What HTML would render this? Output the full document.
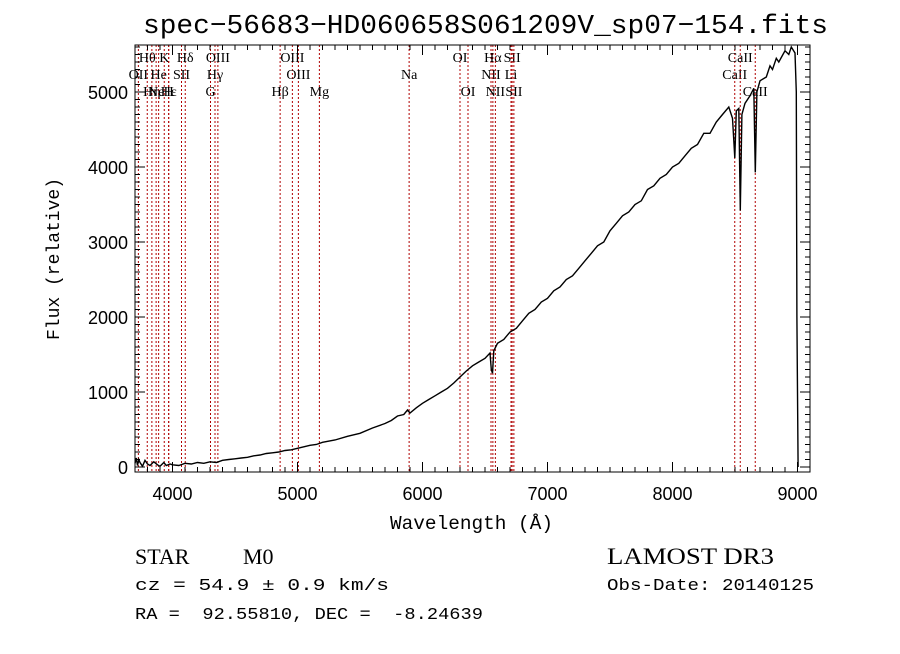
<!DOCTYPE html>
<html><head><meta charset="utf-8"><style>
body{margin:0;background:#fff;width:900px;height:649px;overflow:hidden}
svg text{font-family:"Liberation Sans",sans-serif;white-space:pre}
</style></head><body>
<svg id="chart" width="900" height="649" viewBox="0 0 900 649" xmlns="http://www.w3.org/2000/svg" xml:space="preserve">
<rect width="900" height="649" fill="#fff"/>
<text x="143" y="33" textLength="685" lengthAdjust="spacingAndGlyphs" font-size="27" style="font-family:'Liberation Mono',monospace">spec−56683−HD060658S061209V_sp07−154.fits</text>
<g id="lines"></g>
<g id="marks"></g>
<g id="axes"></g>
<text x="390" y="529" textLength="163" lengthAdjust="spacingAndGlyphs" font-size="19" style="font-family:'Liberation Mono',monospace">Wavelength (Å)</text>
<text transform="translate(59,340) rotate(-90)" textLength="162" lengthAdjust="spacingAndGlyphs" font-size="18" style="font-family:'Liberation Mono',monospace">Flux (relative)</text>
<text x="135" y="564" font-size="22" style="font-family:'Liberation Serif',serif">STAR</text>
<text x="243" y="564" font-size="22" style="font-family:'Liberation Serif',serif">M0</text>
<text x="607" y="564" textLength="167" lengthAdjust="spacingAndGlyphs" font-size="23" style="font-family:'Liberation Serif',serif">LAMOST DR3</text>
<text x="135" y="590" textLength="254" lengthAdjust="spacingAndGlyphs" font-size="17" style="font-family:'Liberation Mono',monospace">cz = 54.9 ± 0.9 km/s</text>
<text x="607" y="590" textLength="207" lengthAdjust="spacingAndGlyphs" font-size="17" style="font-family:'Liberation Mono',monospace">Obs-Date: 20140125</text>
<text x="135" y="619" textLength="348" lengthAdjust="spacingAndGlyphs" font-size="17" style="font-family:'Liberation Mono',monospace">RA =  92.55810, DEC =  -8.24639</text>
</svg>
<script>
const wavelengths=[3700,3710,3720,3730,3740,3760,3780,3800,3820,3850,3880,3900,3930,3950,3980,4000,4050,4100,4150,4200,4250,4300,4350,4400,4450,4500,4550,4600,4650,4700,4750,4800,4850,4900,4950,5000,5050,5100,5150,5200,5300,5400,5500,5600,5700,5750,5800,5850,5880,5900,5950,6000,6050,6100,6150,6200,6250,6300,6350,6400,6450,6500,6540,6550,6560,6570,6600,6650,6700,6750,6800,6850,6900,6950,7000,7050,7100,7150,7200,7250,7300,7350,7400,7450,7500,7550,7600,7650,7700,7750,7800,7850,7900,7950,8000,8050,8100,8150,8200,8250,8300,8350,8400,8450,8480,8498,8510,8530,8542,8555,8580,8620,8650,8662,8675,8700,8750,8780,8800,8830,8850,8900,8930,8950,8980,8990,8995,9000,9005];
const fluxValues=[50,120,20,100,60,10,90,40,20,70,30,10,60,20,40,30,20,50,40,60,50,70,60,90,100,110,120,130,150,160,180,190,200,220,230,250,270,290,300,330,360,410,450,520,580,620,680,700,760,720,790,850,900,950,1000,1050,1120,1200,1280,1350,1400,1450,1520,1300,1250,1550,1650,1700,1800,1850,1950,2050,2100,2200,2250,2350,2400,2500,2550,2650,2750,2850,2950,3000,3150,3250,3350,3400,3500,3550,3700,3750,3850,3900,4000,4050,4150,4250,4300,4450,4450,4600,4700,4800,4650,4120,4750,4780,3420,4700,4850,4950,5050,3930,5000,5150,5200,5350,5300,5450,5400,5550,5500,5600,5520,5000,2000,1000,0];
const xTicks=[4000,5000,6000,7000,8000,9000];
const yTicks=[0,1000,2000,3000,4000,5000];
const lineNames=["OII","Hθ","Hη","He","Ne","K","H","Hε","SII","Hδ","G","Hγ","OIII","Hβ","OIII","OIII","Mg","Na","OI","OI","NII","Hα","NII","Li","SII","SII","CaII","CaII","CaII"];
const lineWaves=[3727,3798,3835,3889,3869,3934,3969,3970,4072,4102,4304,4340,4363,4861,4959,5007,5175,5893,6300,6364,6548,6563,6583,6708,6717,6731,8498,8542,8662];
const lineRows=[1,0,2,1,2,0,2,2,1,0,2,1,0,2,0,1,2,1,0,2,1,0,2,1,0,2,1,0,2];
const L=135,R=810,T=45,B=472;
const xs=w=>L+(w-3700)*(R-L)/(9100-3700);
const ys=f=>467-f*0.075;
const NS="http://www.w3.org/2000/svg";
function mk(t,a,p){const e=document.createElementNS(NS,t);for(const k in a)e.setAttribute(k,a[k]);p.appendChild(e);return e;}
const lg=document.getElementById('lines');
lineWaves.forEach((w,i)=>{
 const x=xs(w);
 const ln=mk('line',{x1:x,x2:x,y1:T,y2:B,stroke:'#b00000','stroke-width':1,'stroke-dasharray':'2,2'},lg);
 
 
 const t=mk('text',{x:x,y:62+lineRows[i]*17,'text-anchor':'middle','font-size':14,style:"font-family:'Liberation Serif',serif"},lg);
 t.textContent=lineNames[i];
 
 
});
const mg=document.getElementById('marks');
const pts=wavelengths.map((w,i)=>xs(w).toFixed(1)+','+ys(fluxValues[i]).toFixed(1)).join(' ');
const pl=mk('polyline',{points:pts,fill:'none',stroke:'#000','stroke-width':1.4},mg);


const ag=document.getElementById('axes');
const fr=mk('rect',{x:L,y:T,width:R-L,height:B-T,fill:'none',stroke:'#000','stroke-width':1},ag);


for(let w=3700;w<=9100;w+=100){const x=xs(w);const maj=w%1000===0;const l=maj?10:5;
 mk('line',{x1:x,x2:x,y1:B,y2:B-l,stroke:'#000'},ag);mk('line',{x1:x,x2:x,y1:T,y2:T+l,stroke:'#000'},ag);}
for(let f=0;f<=5600;f+=100){const y=ys(f);const maj=f%1000===0;const l=maj?10:5;
 mk('line',{x1:L,x2:L+l,y1:y,y2:y,stroke:'#000'},ag);mk('line',{x1:R,x2:R-l,y1:y,y2:y,stroke:'#000'},ag);}
xTicks.forEach(v=>{const t=mk('text',{x:xs(v),y:500,'text-anchor':'middle','font-size':18},ag);t.textContent=v;
 
 });
yTicks.forEach(v=>{const t=mk('text',{x:128,y:ys(v)+7,'text-anchor':'end','font-size':18},ag);t.textContent=v;
 
 });
</script>
</body></html>
